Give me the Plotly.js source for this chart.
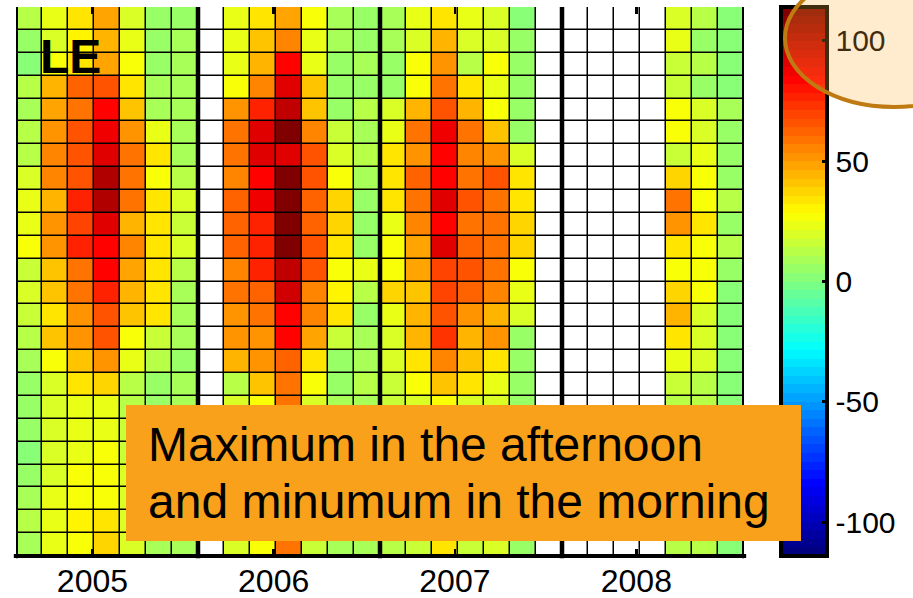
<!DOCTYPE html>
<html>
<head>
<meta charset="utf-8">
<script src="https://cdn.plot.ly/plotly-3.0.1.min.js"></script>
<style>html,body{margin:0;padding:0;background:#fff;}#chart{width:913px;height:598px;}</style>
</head>
<body>
<div id="chart"></div>
<script>
// Latent heat flux (LE) diurnal cycles, 24 hourly rows x 7 columns per year
const years = ['2005', '2006', '2007', '2008'];
const le2005 = [
  [14,24,33,47,20,6,6],
  [6,20,30,45,22,6,9],
  [2,28,33,49,26,6,9],
  [14,45,63,67,35,9,9],
  [9,48,60,85,40,9,9],
  [14,50,67,89,50,24,9],
  [14,55,67,92,57,35,9],
  [21,55,67,100,60,26,14],
  [22,45,78,103,57,34,19],
  [22,50,71,92,45,34,17],
  [26,50,78,82,54,34,19],
  [17,40,60,82,47,34,14],
  [21,40,60,76,45,35,9],
  [17,35,50,67,40,34,9],
  [14,40,50,67,28,17,9],
  [9,28,42,50,22,14,6],
  [6,21,35,39,14,6,9],
  [4,19,24,24,14,6,9],
  [4,19,24,24,17,6,9],
  [2,19,24,26,17,6,9],
  [4,21,26,26,20,9,9],
  [9,22,27,28,20,9,9],
  [11,24,29,35,20,9,9],
  [9,24,28,37,19,9,9]
];
const le2006 = [
  [null,24,35,48,28,9,6],
  [null,22,42,54,22,9,6],
  [null,24,44,85,24,6,9],
  [null,28,54,92,41,6,4],
  [null,50,78,99,40,6,14],
  [null,57,92,111,55,17,9],
  [null,57,90,92,67,21,14],
  [null,55,82,114,67,26,9],
  [null,63,89,114,63,37,6],
  [null,63,76,111,63,39,6],
  [null,63,76,114,67,34,6],
  [null,55,78,99,67,28,22],
  [null,57,63,96,55,30,14],
  [null,50,57,85,55,35,6],
  [null,50,50,82,48,17,9],
  [null,44,50,63,35,6,9],
  [null,11,40,60,28,6,11],
  [null,21,28,57,21,9,9],
  [null,19,28,55,21,9,9],
  [null,17,26,50,19,6,9],
  [null,17,24,48,17,6,6],
  [null,19,26,50,17,9,9],
  [null,21,28,55,19,9,9],
  [null,21,28,57,17,9,9]
];
const le2007 = [
  [9,22,35,22,21,2,null],
  [9,19,45,19,19,4,null],
  [6,28,50,11,26,6,null],
  [4,28,57,34,22,6,null],
  [21,43,67,43,26,4,null],
  [22,57,89,60,42,6,null],
  [35,50,82,55,50,21,null],
  [35,63,82,60,67,34,null],
  [34,57,92,67,60,34,null],
  [22,55,82,60,60,37,null],
  [28,48,90,63,57,39,null],
  [28,48,71,67,58,28,null],
  [37,40,69,62,55,23,null],
  [22,45,67,50,45,21,null],
  [21,44,74,44,50,6,null],
  [19,34,54,42,35,4,null],
  [17,26,40,34,22,6,null],
  [17,21,28,21,21,6,null],
  [17,19,26,19,19,6,null],
  [14,17,24,17,17,4,null],
  [14,17,26,17,17,4,null],
  [14,19,28,17,19,6,null],
  [14,17,33,19,19,6,null],
  [14,17,35,17,19,6,null]
];
const le2008 = [
  [null,null,null,null,21,11,2],
  [null,null,null,null,22,6,2],
  [null,null,null,null,17,11,2],
  [null,null,null,null,17,6,2],
  [null,null,null,null,26,21,9],
  [null,null,null,null,26,21,6],
  [null,null,null,null,17,22,6],
  [null,null,null,null,39,28,6],
  [null,null,null,null,57,28,11],
  [null,null,null,null,50,35,6],
  [null,null,null,null,35,28,11],
  [null,null,null,null,28,28,6],
  [null,null,null,null,36,26,3],
  [null,null,null,null,44,19,2],
  [null,null,null,null,34,19,2],
  [null,null,null,null,24,19,2],
  [null,null,null,null,17,14,2],
  [null,null,null,null,14,14,2],
  [null,null,null,null,14,11,2],
  [null,null,null,null,11,11,2],
  [null,null,null,null,11,9,2],
  [null,null,null,null,14,11,2],
  [null,null,null,null,14,11,2],
  [null,null,null,null,14,11,2]
];
const cbTickVals = [-100, -50, 0, 50, 100];
const cbTickText = ['-100', '-50', '0', '50', '100'];

const perYear = le2005[0].length;
const z = le2005.map((row, r) => row.concat(le2006[r], le2007[r], le2008[r]));
const missing = z.map(row => row.map(v => (v === null ? 1 : null)));

// MATLAB-like jet, 64 discrete levels
function jet(t) {
  const c = v => Math.max(0, Math.min(1, v));
  return [c(1.5 - Math.abs(4 * t - 3)), c(1.5 - Math.abs(4 * t - 2)), c(1.5 - Math.abs(4 * t - 1))];
}
const N = 64;
const jetScale = [];
for (let i = 0; i < N; i++) {
  const rgb = jet(i / (N - 1)).map(v => Math.round(v * 255));
  const col = 'rgb(' + rgb.join(',') + ')';
  jetScale.push([i / N, col]);
  jetScale.push([(i + 1) / N, col]);
}

const FONT = 'Liberation Sans, Arial, sans-serif';
const nCols = z[0].length, nRows = z.length;

const tickPos = [2.44, 9.41, 16.38, 23.36];

const data = [
  {
    type: 'heatmap', z: z, zmin: -114, zmax: 114,
    colorscale: jetScale, xgap: 1.5, ygap: 1.5, hoverinfo: 'skip',
    colorbar: {
      thickness: 46, thicknessmode: 'pixels', len: 1, lenmode: 'fraction',
      y: 0.5, yanchor: 'middle', ypad: 0,
      x: 1.0508, xanchor: 'left', xpad: 0,
      outlinewidth: 4, outlinecolor: 'black',
      tickmode: 'array', tickvals: cbTickVals, ticktext: cbTickText,
      ticks: 'inside', ticklen: 7, tickwidth: 3, tickcolor: 'black',
      tickfont: {family: FONT, size: 30, color: 'black'}
    }
  },
  {
    type: 'heatmap', z: missing, zmin: 0, zmax: 1, showscale: false,
    colorscale: [[0, 'white'], [1, 'white']], xgap: 1.5, ygap: 1.5, hoverinfo: 'skip'
  }
];

const shapes = [];
const lineShape = (x, w) => ({type: 'line', layer: 'above', xref: 'x', yref: 'paper',
  x0: x, x1: x, y0: -0.004, y1: 1, line: {color: 'black', width: w}});
shapes.push(lineShape(-0.5, 4));
for (let k = 1; k < years.length; k++) shapes.push(lineShape(k * perYear - 0.5, 4.5));
shapes.push(lineShape(nCols - 0.5, 4));
shapes.push({type: 'line', layer: 'above', xref: 'paper', yref: 'paper',
  x0: -0.003, x1: 1.003, y0: 0, y1: 0, line: {color: 'black', width: 4}});
const ellipseIndex = shapes.length;
shapes.push({type: 'circle', layer: 'above', xref: 'paper', yref: 'paper',
  x0: 1.0563, x1: 1.3558, y0: 0.8179, y1: 1.0692,
  fillcolor: 'rgba(255,175,55,0.25)', line: {color: 'rgb(192,122,18)', width: 4}});

const layout = {
  width: 913, height: 598,
  margin: {l: 16, r: 169, t: 7, b: 42, autoexpand: false},
  paper_bgcolor: 'white', plot_bgcolor: 'black',
  font: {family: FONT, color: 'black'},
  showlegend: false,
  xaxis: {
    range: [-0.5, nCols - 0.5], showgrid: false, zeroline: false, showline: false,
    tickmode: 'array', tickvals: tickPos, ticktext: years,
    ticks: 'inside', ticklen: 7, tickwidth: 2.5, tickcolor: 'black', mirror: 'ticks',
    layer: 'above traces', ticklabelstandoff: 3,
    tickfont: {family: FONT, size: 32, color: 'black'}
  },
  yaxis: {
    range: [nRows - 0.5, -0.5], showgrid: false, zeroline: false,
    showticklabels: false, ticks: ''
  },
  shapes: shapes,
  annotations: [
    {xref: 'paper', yref: 'paper', x: 0.1511, y: 0.2750, xanchor: 'left', yanchor: 'top',
     text: '\u00a0', width: 675, height: 136, bgcolor: '#F9A11A', borderpad: 0, borderwidth: 0,
     showarrow: false, font: {size: 10}},
    {xref: 'paper', yref: 'paper', x: 0.1793, y: 0.2033, xanchor: 'left', yanchor: 'middle',
     text: 'Maximum in the afternoon', showarrow: false, borderpad: 0,
     font: {family: FONT, size: 48, color: 'black'}},
    {xref: 'paper', yref: 'paper', x: 0.1793, y: 0.0995, xanchor: 'left', yanchor: 'middle',
     text: 'and minumum in the morning', showarrow: false, borderpad: 0,
     font: {family: FONT, size: 48, color: 'black'}},
    {xref: 'paper', yref: 'paper', x: 0.0319, y: 0.91, xanchor: 'left', yanchor: 'middle',
     text: '<b>LE</b>', showarrow: false, borderpad: 0,
     font: {family: FONT, size: 48, color: 'black'}}
  ]
};

const gd = document.getElementById('chart');
Plotly.newPlot(gd, data, layout, {staticPlot: true, displayModeBar: false}).then(function () {
  // lift the highlight ellipse above the colour bar
  const p = gd.querySelector('.layer-above .shapelayer path[data-index="' + ellipseIndex + '"]');
  const svgs = gd.querySelectorAll('svg.main-svg');
  if (p && svgs.length > 1) {
    const node = (p.parentNode && p.parentNode.classList && p.parentNode.classList.contains('shape-group')) ? p.parentNode : p;
    const g = document.createElementNS('http://www.w3.org/2000/svg', 'g');
    g.appendChild(node);
    svgs[1].appendChild(g);
  }
});
</script>
</body>
</html>
